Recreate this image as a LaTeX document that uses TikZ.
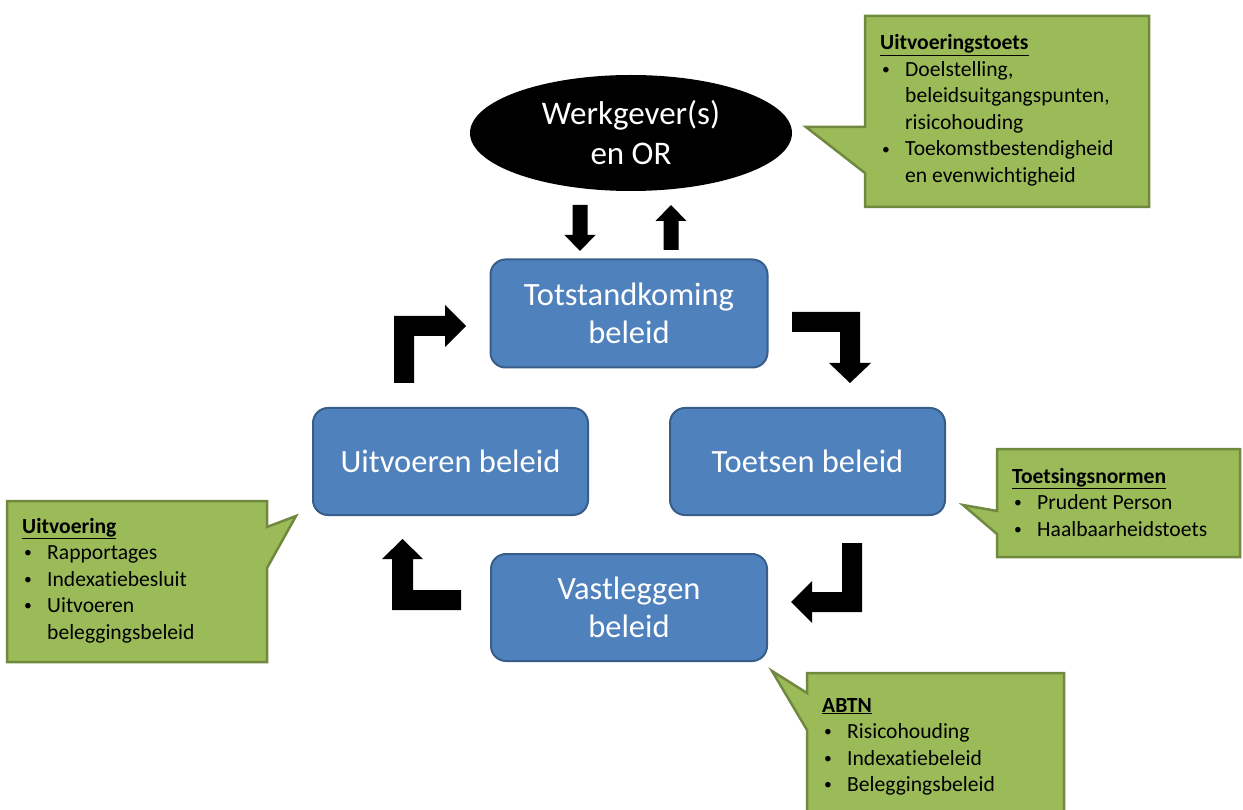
\documentclass[tikz,border=0pt]{standalone}
\usepackage{fontspec}
\setmainfont{Carlito}[Ligatures=CommonOff]
\usetikzlibrary{shapes.geometric}
\definecolor{bluefill}{HTML}{4F81BD}
\definecolor{blueline}{HTML}{385D8A}
\definecolor{greenfill}{HTML}{9BBB59}
\definecolor{greenline}{HTML}{71893F}
\newcommand\bitem[1]{\makebox[25pt][l]{\hspace{2pt}\raisebox{1.6pt}{\scalebox{0.72}{•}}}#1}
\newcommand\contline[1]{\hspace*{25pt}#1}
\newcommand\notehead[1]{\underline{\textbf{#1}}}
\begin{document}
\begin{tikzpicture}[x=1pt,y=-1pt,
  stage/.style={draw=blueline, line width=2pt, fill=bluefill, rounded corners=15pt,
    text=white, font=\fontsize{32.5}{38}\selectfont, align=center, inner sep=0pt},
  callout/.style={draw=greenline, line width=2.5pt, fill=greenfill, line join=miter},
  blockarrow/.style={fill=black},
  note/.style={anchor=base west, inner sep=0pt, font=\fontsize{21.6}{26.5}\selectfont}]
\useasboundingbox (0,0) rectangle (1243,810);

% callouts
\draw[callout] (865,16) -- (1149,16) -- (1149,207) -- (865,207) -- (865,173) -- (806,127) -- (865,127) -- cycle;
\node[note] (n1) at (880,50) {\begin{minipage}[t]{260pt}\setlength\parindent{0pt}%
\notehead{Uitvoeringstoets}\\
\bitem{Doelstelling,}\\
\contline{beleidsuitgangspunten,}\\
\contline{risicohouding}\\
\bitem{Toekomstbestendigheid}\\
\contline{en evenwichtigheid}\end{minipage}};

\draw[callout] (997,449) -- (1240,449) -- (1240,557) -- (997,557) -- (997,534) -- (963,505) -- (997,511) -- cycle;
\node[note] (n2) at (1012,483) {\begin{minipage}[t]{220pt}\setlength\parindent{0pt}%
\notehead{Toetsingsnormen}\\
\bitem{Prudent Person}\\
\bitem{Haalbaarheidstoets}\end{minipage}};

\draw[callout] (7,501) -- (267,501) -- (267,527) -- (296,516) -- (267,568) -- (267,662) -- (7,662) -- cycle;
\node[note] (n3) at (22,533) {\begin{minipage}[t]{240pt}\setlength\parindent{0pt}%
\notehead{Uitvoering}\\
\bitem{Rapportages}\\
\bitem{Indexatiebesluit}\\
\bitem{Uitvoeren}\\
\contline{beleggingsbeleid}\end{minipage}};

\draw[callout] (807,673) -- (1064,673) -- (1064,830) -- (807,830) -- (807,730) -- (772,671) -- (807,693) -- cycle;
\node[note] (n4) at (822,712) {\begin{minipage}[t]{230pt}\setlength\parindent{0pt}%
\notehead{ABTN}\\
\bitem{Risicohouding}\\
\bitem{Indexatiebeleid}\\
\bitem{Beleggingsbeleid}\end{minipage}};

% ellipse and stages
\node[ellipse, fill=black, minimum width=322pt, minimum height=116pt, inner sep=0pt,
  text=white, font=\fontsize{33}{40}\selectfont, align=center] (wg) at (631,133) {Werkgever(s)\\en OR};
\node[stage, minimum width=277pt, minimum height=108pt] (tot) at (629,313.5) {Totstandkoming\\beleid};
\node[stage, minimum width=275pt, minimum height=107pt] (uit) at (450.5,461.5) {Uitvoeren beleid};
\node[stage, minimum width=275pt, minimum height=107pt] (toe) at (807.5,461.5) {Toetsen beleid};
\node[stage, minimum width=276pt, minimum height=107pt] (vast) at (629,607.5) {Vastleggen\\beleid};

% block arrows
\fill[blockarrow] (572.5,205) -- (587.5,205) -- (587.5,235) -- (595.5,235) -- (580,251) -- (564.5,235) -- (572.5,235) -- cycle;
\fill[blockarrow] (663.5,250) -- (678.5,250) -- (678.5,221) -- (686.5,221) -- (671,205) -- (655.5,221) -- (663.5,221) -- cycle;
\fill[blockarrow] (394,383) -- (394,316) -- (445,316) -- (445,305) -- (466,326) -- (445,347) -- (445,336) -- (414,336) -- (414,383) -- cycle;
\fill[blockarrow] (792,312) -- (860,312) -- (860,363) -- (871,363) -- (850,383) -- (829,363) -- (840,363) -- (840,332) -- (792,332) -- cycle;
\fill[blockarrow] (842,543) -- (862,543) -- (862,612) -- (812,612) -- (812,623) -- (791,602) -- (812,581) -- (812,592) -- (842,592) -- cycle;
\fill[blockarrow] (461,590) -- (461,610) -- (392,610) -- (392,559) -- (382,559) -- (402.5,539) -- (423,559) -- (413,559) -- (413,590) -- cycle;
\end{tikzpicture}
\end{document}
